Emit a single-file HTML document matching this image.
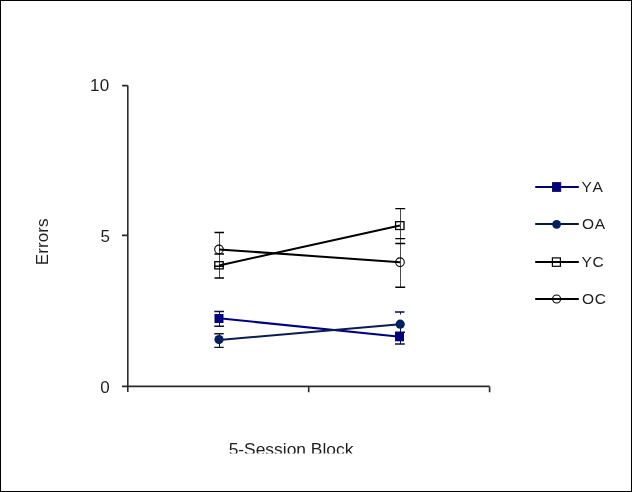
<!DOCTYPE html>
<html><head><meta charset="utf-8">
<style>
html,body{margin:0;padding:0;background:#fff;}
body{width:632px;height:492px;overflow:hidden;}
svg{display:block;will-change:transform;}
text{font-family:"Liberation Sans",sans-serif;fill:#1e1e1e;font-kerning:none;}
</style></head>
<body>
<svg width="632" height="492" viewBox="0 0 632 492">
<rect x="0" y="0" width="632" height="492" fill="#fff"/>
<rect x="0.5" y="0.5" width="631" height="491" fill="none" stroke="#000" stroke-width="1"/>

<!-- axes -->
<g stroke="#2a2a2a" stroke-width="1.6" fill="none">
<path d="M127.8 85.6 V392"/>
<path d="M127.8 386.4 H489.6"/>
<path d="M122 85.6 H127.8 M122 235.4 H127.8 M122 386.4 H127.8"/>
<path d="M308.7 386.4 V392.2 M489.6 386.4 V392.2"/>
</g>

<!-- y labels -->
<g font-size="17" text-anchor="end">
<text x="109.6" y="91" letter-spacing="0.4">10</text>
<text x="110" y="241.8">5</text>
<text x="109.8" y="392.8">0</text>
</g>
<text font-size="17" letter-spacing="0.1" transform="translate(48 241.8) rotate(-90)" text-anchor="middle">Errors</text>
<text font-size="17.4" x="291" y="454.6" text-anchor="middle">5-Session Block</text>
<rect x="200" y="453.5" width="200" height="12" fill="#fff"/>

<!-- error bars -->
<g fill="none">
<g stroke="#4a4a4a" stroke-width="1">
<path d="M219.5 232.5 V278"/>
<path d="M400.5 208.6 V287.3"/>
</g>
<g stroke="#000" stroke-width="1.4">
<path d="M214.5 232.5 H224 M214.5 266.3 H224 M214.5 254 H224 M214.5 278 H224"/>
<path d="M395.3 208.6 H405.2 M395.3 243.5 H405.2 M395.3 238.6 H405.2 M395.3 287.3 H405.2"/>
</g>
<g stroke="#0d1a50" stroke-width="1">
<path d="M219.5 311.5 V326.3 M219.5 333.8 V347.4"/>
<path d="M400.5 312 V314.5 M400.5 327 V332.5 M400.5 341 V344"/>
</g>
<g stroke="#0a1238" stroke-width="1.4">
<path d="M214.3 311.5 H224 M214.3 326.3 H224 M214.3 333.8 H223.7 M214.3 347.4 H223.7"/>
<path d="M395 312 H404.5 M395 344 H404.8 M395 332.3 H405"/>
</g>
</g>

<!-- series lines -->
<g stroke-width="2" fill="none">
<path d="M219 318.3 L400 336.8" stroke="#000080"/>
<path d="M219 340 L400 324.3" stroke="#0a1c50"/>
<path d="M219 265.5 L400 225.4" stroke="#000"/>
<path d="M219 249.4 L400 262.2" stroke="#000"/>
</g>

<!-- markers -->
<g>
<rect x="214.5" y="314" width="9" height="9" fill="#000080"/>
<rect x="395" y="332.3" width="9" height="9" fill="#000080"/>
<circle cx="219" cy="339.6" r="4.6" fill="#002060"/>
<circle cx="400.2" cy="324.2" r="4.6" fill="#002060"/>
<rect x="214.8" y="261.7" width="8.4" height="7.2" fill="none" stroke="#000" stroke-width="1.3"/>
<rect x="395.6" y="221.7" width="8.4" height="7.8" fill="none" stroke="#000" stroke-width="1.3"/>
<circle cx="219" cy="249.4" r="4.3" fill="none" stroke="#000" stroke-width="1.1"/>
<circle cx="400" cy="262.2" r="4.3" fill="none" stroke="#000" stroke-width="1.1"/>
</g>

<!-- legend -->
<g stroke-width="2.2" fill="none">
<path d="M535.2 187 H578.8" stroke="#000070"/>
<path d="M535.2 224 H578.8" stroke="#0a1838"/>
<path d="M535.2 262 H578.8" stroke="#000"/>
<path d="M535.2 299 H578.8" stroke="#000"/>
</g>
<rect x="552.4" y="182.6" width="8.4" height="8.8" fill="#000080" stroke="#000050" stroke-width="0.8"/>
<circle cx="556.6" cy="224.3" r="4.4" fill="#002060"/>
<rect x="552.4" y="257.9" width="8" height="8.4" fill="none" stroke="#000" stroke-width="1.2"/>
<circle cx="556.6" cy="299" r="4" fill="none" stroke="#000" stroke-width="1.1"/>
<g font-size="15.5" letter-spacing="0.6">
<text x="581.5" y="191.8">YA</text>
<text x="582" y="229">OA</text>
<text x="581.5" y="266.6">YC</text>
<text x="582" y="303.6">OC</text>
</g>
</svg>
</body></html>
